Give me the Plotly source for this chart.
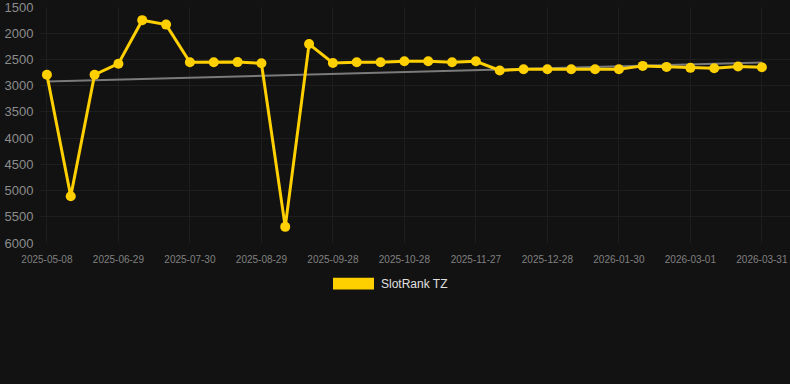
import plotly.graph_objects as go

dates = [
    "2025-05-08", "2025-05-25", "2025-06-12", "2025-06-29", "2025-07-09", "2025-07-20",
    "2025-07-30", "2025-08-09", "2025-08-19", "2025-08-29", "2025-09-08", "2025-09-18",
    "2025-09-28", "2025-10-08", "2025-10-18", "2025-10-28", "2025-11-07", "2025-11-17",
    "2025-11-27", "2025-12-07", "2025-12-17", "2025-12-28", "2026-01-08", "2026-01-19",
    "2026-01-30", "2026-02-09", "2026-02-19", "2026-03-01", "2026-03-11", "2026-03-21",
    "2026-03-31",
]
rank = [
    2790, 5110, 2790, 2580, 1750, 1835, 2553, 2553, 2550, 2572, 5692, 2206,
    2566, 2553, 2553, 2534, 2534, 2553, 2534, 2710, 2686, 2686, 2686, 2686,
    2686, 2622, 2641, 2660, 2666, 2635, 2648,
]
trend_ends = [2918, 2559]
tick_labels = dates[::3]
y_ticks = [1500, 2000, 2500, 3000, 3500, 4000, 4500, 5000, 5500, 6000]
series_name = "SlotRank TZ"

GOLD = "#FFD000"
BG = "#121212"
GRID = "#1e1e1e"

W, H = 790, 384
ML, MR, MT, MB = 40, 0, 5, 141
PW, PH = W - ML - MR, H - MT - MB


def px_x(p):
    return (p - ML) / PW


def px_y(p):
    return (H - MB - p) / PH


fig = go.Figure()
fig.add_trace(go.Scatter(
    x=[dates[0], dates[-1]], y=trend_ends, mode="lines",
    line=dict(color="#7a7a7a", width=2), showlegend=False, hoverinfo="skip",
))
fig.add_trace(go.Scatter(
    x=dates, y=rank, mode="lines+markers",
    line=dict(color=GOLD, width=3),
    marker=dict(color=GOLD, size=10),
    showlegend=False, name=series_name,
))

# legend (drawn manually to match swatch shape)
fig.add_shape(
    type="rect", xref="paper", yref="paper",
    x0=px_x(333), x1=px_x(374), y0=px_y(278), y1=px_y(290),
    fillcolor=GOLD, line=dict(width=0),
)
fig.add_annotation(
    xref="paper", yref="paper", x=px_x(379), y=px_y(284.5),
    xanchor="left", yanchor="middle", showarrow=False,
    text=series_name, font=dict(size=12, color="#e0e0e0"),
)

fig.update_layout(
    width=W, height=H,
    paper_bgcolor=BG, plot_bgcolor=BG,
    margin=dict(l=ML, r=MR, t=MT, b=MB),
    font=dict(family="Liberation Sans, Arial, sans-serif"),
    showlegend=False,
    xaxis=dict(
        type="category", categoryorder="array", categoryarray=dates,
        range=[-0.29, 31.18],
        tickmode="array", tickvals=tick_labels, ticktext=tick_labels,
        tickfont=dict(size=10, color="#808080"),
        showgrid=True, gridcolor=GRID, gridwidth=1,
        zeroline=False, showline=False,
        ticks="outside", ticklen=7, tickcolor=BG,
    ),
    yaxis=dict(
        range=[6000, 1499], tickvals=y_ticks,
        tickfont=dict(size=13, color="#8c8c8c"),
        ticklabeloverflow="allow",
        showgrid=True, gridcolor=GRID, gridwidth=1,
        zeroline=False, showline=False,
        ticks="outside", ticklen=3, tickcolor=BG,
    ),
)

fig.write_html("out.html")
